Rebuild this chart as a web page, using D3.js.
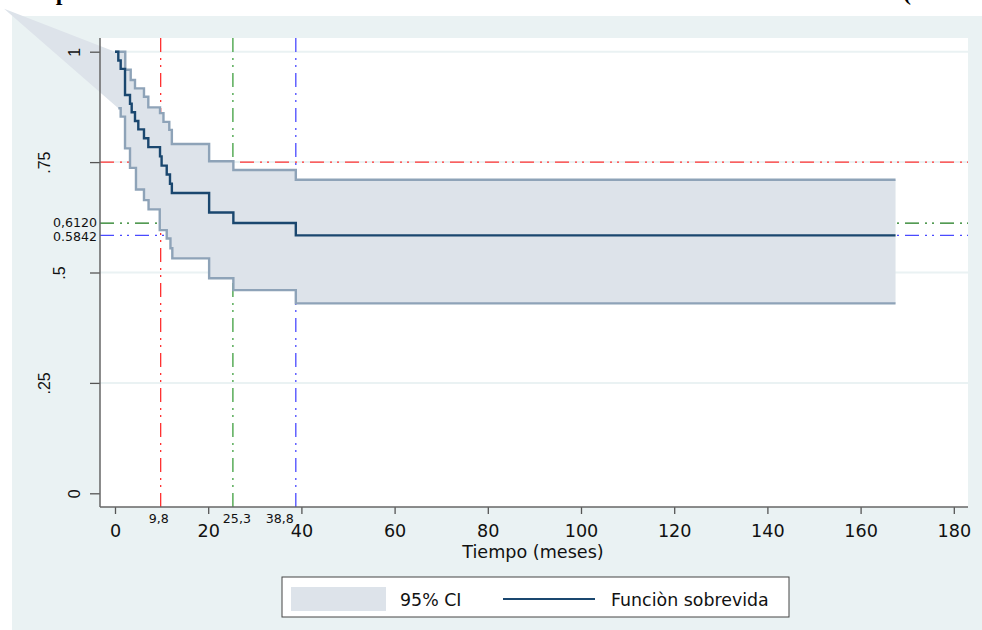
<!DOCTYPE html>
<html>
<head>
<meta charset="utf-8">
<script src="https://cdn.jsdelivr.net/npm/d3@7"></script>
<style>
  body { margin: 0; background: #fff; }
  svg { display: block; font-family: "DejaVu Sans", Verdana, sans-serif; }
</style>
</head>
<body>
<div id="chart"></div>
<script>
// Kaplan-Meier estimate (time in months)
const survTimes  = [0, 0.71, 1.22, 2.15, 3.22, 3.58, 4.29, 5.0, 6.22, 7.15, 9.66, 10.0, 11.1, 11.8, 12.2, 20.2, 25.4, 38.8];
const survValues = [1, 0.980, 0.961, 0.902, 0.882, 0.863, 0.843, 0.824, 0.804, 0.784, 0.763, 0.742, 0.722, 0.701, 0.680, 0.636, 0.612, 0.584];

const upperTimes  = [0, 2.2, 3.37, 4.29, 6.22, 7.15, 9.66, 10.4, 11.65, 12.2, 20.2, 25.4, 38.8];
const upperValues = [1, 0.959, 0.936, 0.917, 0.898, 0.874, 0.861, 0.841, 0.823, 0.791, 0.752, 0.732, 0.710];

const lowerTimes  = [0.71, 1.22, 2.15, 3.22, 4.5, 6.22, 7.2, 9.6, 11.1, 11.9, 12.3, 20.2, 25.4, 38.8];
const lowerValues = [0.872, 0.853, 0.781, 0.737, 0.688, 0.664, 0.643, 0.596, 0.577, 0.555, 0.532, 0.487, 0.460, 0.430];

const endTime = 167.5;
const ciStart = [-23.8, 1.097];   // stray first vertex of the CI polygon

const xTicks = [0, 20, 40, 60, 80, 100, 120, 140, 160, 180];
const yTicks = [0, 0.25, 0.5, 0.75, 1];
const yTickLabels = ['0', '.25', '.5', '.75', '1'];

const refTimes = [9.8, 25.3, 38.8];
const refTimeLabels = ['9,8', '25,3', '38,8'];
const refSurv = [0.75, 0.6120, 0.5842];
const refSurvLabels = ['', '0,6120', '0.5842'];

const legendLabels = ['95% CI', 'Funciòn sobrevida'];

// ---------------------------------------------------------------
const W = 982, H = 630;
const plotL = 100, plotR = 968, plotT = 38, plotB = 507;
const ciFill = '#dde3ea', ciLine = '#8ea3b8', mainLine = '#1a476f';
const dash = '14 6 2 5 2 6';

const svg = d3.select('#chart').append('svg')
    .attr('width', W)
    .attr('height', H);

svg.append('rect')
    .attr('x', 12).attr('y', 16)
    .attr('width', W - 12).attr('height', H - 16)
    .attr('fill', '#eaf2f3');

svg.append('rect')
    .attr('x', plotL).attr('y', plotT)
    .attr('width', plotR - plotL).attr('height', plotB - plotT)
    .attr('fill', '#fff');

// title, mostly above the visible area
svg.append('text')
    .attr('x', 29).attr('y', 0)
    .attr('font-family', '"Liberation Serif", serif')
    .attr('font-weight', 'bold')
    .attr('font-size', 24)
    .text('Supervivencia total de los enfermos tras la intervención');
svg.append('text')
    .attr('x', 903).attr('y', 0)
    .attr('font-family', '"Liberation Serif", serif')
    .attr('font-weight', 'bold')
    .attr('font-size', 24)
    .text('(n = 51 enfermos)');

const x = d3.scaleLinear().domain([0, 180]).range([115, 953.8]);
const y = d3.scaleLinear().domain([0, 1]).range([493.3, 51.7]);

// gridlines
svg.append('g')
    .selectAll('line')
    .data(yTicks.filter(d => d > 0))
    .enter()
    .append('line')
    .attr('x1', plotL).attr('x2', plotR)
    .attr('y1', d => y(d)).attr('y2', d => y(d))
    .attr('stroke', '#eaf2f3')
    .attr('stroke-width', 2);

// reference lines
const hColors = ['#ff3030', '#1b7a1b', '#4a4aff'];
const vColors = ['#ff3030', '#3f9f3f', '#4a4aff'];

svg.append('g')
    .selectAll('line')
    .data(refSurv)
    .enter()
    .append('line')
    .attr('x1', plotL).attr('x2', plotR)
    .attr('y1', d => y(d)).attr('y2', d => y(d))
    .attr('stroke', (d, i) => hColors[i])
    .attr('stroke-width', 1.3)
    .attr('stroke-dasharray', dash);

svg.append('g')
    .selectAll('line')
    .data(refTimes)
    .enter()
    .append('line')
    .attr('x1', d => x(d)).attr('x2', d => x(d))
    .attr('y1', plotT).attr('y2', plotB)
    .attr('stroke', (d, i) => vColors[i])
    .attr('stroke-width', 1.3)
    .attr('stroke-dasharray', dash);

// step curves
function stepPoints(ts, vs, end) {
    const pts = [];
    ts.forEach((t, i) => {
        if (i > 0) pts.push([t, vs[i - 1]]);
        pts.push([t, vs[i]]);
    });
    pts.push([end, vs[vs.length - 1]]);
    return pts;
}

const line = d3.line().x(d => x(d[0])).y(d => y(d[1]));

const upperPts = stepPoints(upperTimes, upperValues, endTime);
const lowerPts = stepPoints(lowerTimes, lowerValues, endTime);
const mainPts = stepPoints(survTimes, survValues, endTime);

svg.append('path')
    .attr('d', line([ciStart].concat(upperPts, lowerPts.slice().reverse())) + 'Z')
    .attr('fill', ciFill);

[upperPts, lowerPts].forEach(pts => {
    svg.append('path')
        .attr('d', line(pts))
        .attr('fill', 'none')
        .attr('stroke', ciLine)
        .attr('stroke-width', 2.4);
});

svg.append('path')
    .attr('d', line(mainPts))
    .attr('fill', 'none')
    .attr('stroke', mainLine)
    .attr('stroke-width', 2.4);

// axes
const yAxis = svg.append('g')
    .attr('transform', `translate(${plotL},0)`)
    .call(d3.axisLeft(y).tickValues(yTicks).tickSize(10).tickFormat((d, i) => yTickLabels[i]));
yAxis.select('.domain').remove();
yAxis.selectAll('.tick line').attr('stroke', '#555').attr('stroke-width', 1.3);
yAxis.selectAll('.tick text')
    .attr('x', null).attr('dy', null)
    .attr('text-anchor', 'middle')
    .attr('font-family', '"Liberation Sans", Arial, sans-serif')
    .attr('font-size', 16)
    .attr('fill', '#111')
    .attr('transform', (d, i) => `translate(${-5 - 15 * yTickLabels[i].length},0) rotate(-90)`);

const xAxis = svg.append('g')
    .attr('transform', `translate(0,${plotB})`)
    .call(d3.axisBottom(x).tickValues(xTicks).tickSize(7));
xAxis.select('.domain').remove();
xAxis.selectAll('.tick line').attr('stroke', '#555').attr('stroke-width', 1.3);
xAxis.selectAll('.tick text')
    .attr('y', 30).attr('dy', null)
    .attr('font-family', '"DejaVu Sans", sans-serif')
    .attr('font-size', 17.6)
    .attr('fill', '#111');

svg.append('line')
    .attr('x1', plotL).attr('x2', plotL)
    .attr('y1', plotT).attr('y2', plotB)
    .attr('stroke', '#666').attr('stroke-width', 1.5);
svg.append('line')
    .attr('x1', plotL).attr('x2', plotR)
    .attr('y1', plotB).attr('y2', plotB)
    .attr('stroke', '#666').attr('stroke-width', 1.5);

// reference labels
const timeLabelShift = [-2, 4, -16];
svg.append('g')
    .selectAll('text')
    .data(refTimes)
    .enter()
    .append('text')
    .attr('x', (d, i) => x(d) + timeLabelShift[i])
    .attr('y', 523)
    .attr('text-anchor', 'middle')
    .attr('font-size', 12.6)
    .attr('fill', '#111')
    .text((d, i) => refTimeLabels[i]);

const survLabelShift = [0, 3.6, 5.6];
svg.append('g')
    .selectAll('text')
    .data(refSurv)
    .enter()
    .append('text')
    .attr('x', 97)
    .attr('y', (d, i) => y(d) + survLabelShift[i])
    .attr('text-anchor', 'end')
    .attr('font-size', 12.6)
    .attr('fill', '#111')
    .text((d, i) => refSurvLabels[i]);

svg.append('text')
    .attr('x', 533).attr('y', 558)
    .attr('text-anchor', 'middle')
    .attr('font-size', 17.6)
    .attr('fill', '#111')
    .text('Tiempo (meses)');

// legend
const legend = svg.append('g');
legend.append('rect')
    .attr('x', 282).attr('y', 577)
    .attr('width', 507).attr('height', 40)
    .attr('fill', '#fff')
    .attr('stroke', '#444');
legend.append('rect')
    .attr('x', 291).attr('y', 587)
    .attr('width', 95).attr('height', 24)
    .attr('fill', ciFill);
legend.append('line')
    .attr('x1', 503).attr('x2', 595)
    .attr('y1', 599).attr('y2', 599)
    .attr('stroke', mainLine).attr('stroke-width', 2);
legend.selectAll('text.lab')
    .data(legendLabels)
    .enter()
    .append('text')
    .attr('class', 'lab')
    .attr('x', (d, i) => i === 0 ? 400 : 611)
    .attr('y', 606)
    .attr('font-size', 17.4)
    .attr('fill', '#111')
    .text(d => d);
</script>
</body>
</html>
